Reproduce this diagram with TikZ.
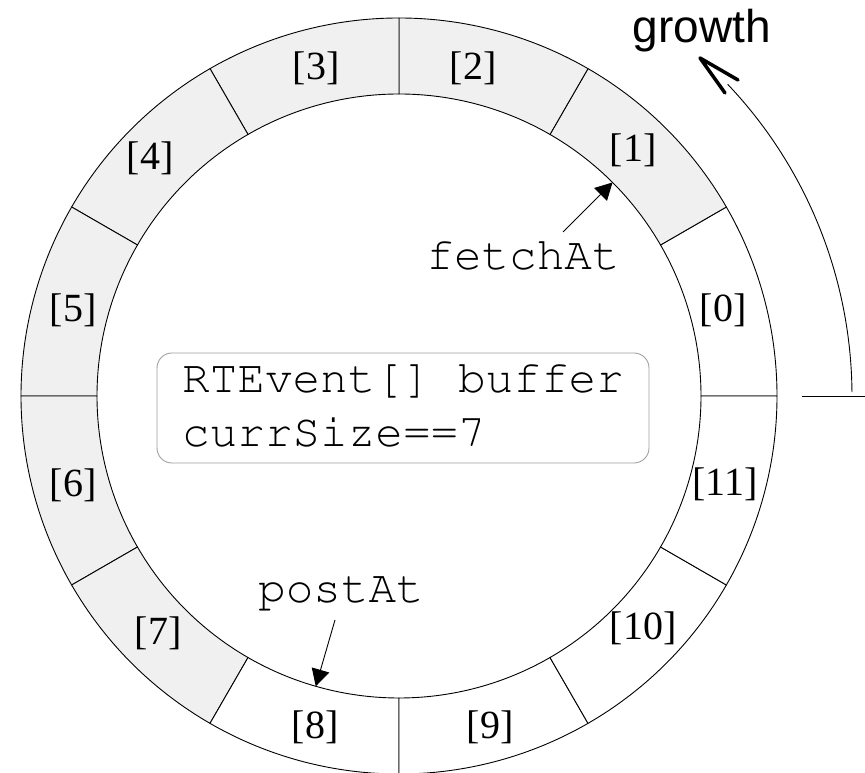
\documentclass[tikz,border=0pt]{standalone}
\usepackage[T1]{fontenc}
\usepackage{fontspec}
\setmainfont{Liberation Serif}
\newfontfamily\headsans{Liberation Sans}
\newcommand\codefont{\fontencoding{T1}\fontfamily{pcr}\fontseries{m}\fontshape{n}}
\usetikzlibrary{arrows.meta,calc}
\definecolor{slotfill}{RGB}{240,240,240}
\definecolor{boxedge}{RGB}{160,160,160}

\begin{document}
\begin{tikzpicture}[x=1pt,y=1pt,
  ringline/.style={line width=0.9pt, black},
  slotlabel/.style={font=\fontsize{40}{48}\selectfont, inner sep=0pt},
  code/.style={font=\codefont\fontsize{46}{54}\selectfont, inner sep=0pt},
  pointer/.style={line width=0.9pt, -{Triangle[length=17pt,width=18pt]}},
  bufbox/.style={draw=boxedge, line width=0.9pt, rounded corners=15pt,
    minimum width=492pt, minimum height=110pt, inner sep=0pt},
]
\useasboundingbox (0,0) rectangle (865,773);
\def\ringin{302}
\def\ringout{378}
\coordinate (C) at (399,377);

% ring buffer slots, 30 degrees each; slots 1..7 are occupied
\foreach \k/\shade in {0/white,1/slotfill,2/slotfill,3/slotfill,4/slotfill,5/slotfill,
                       6/slotfill,7/slotfill,8/white,9/white,10/white,11/white}{
  \pgfmathsetmacro\a{30*\k}
  \pgfmathsetmacro\b{30*\k+30}
  \filldraw[ringline, fill=\shade]
    ($(C)+(\a:\ringin)$) -- ($(C)+(\a:\ringout)$)
    arc[start angle=\a, end angle=\b, radius=\ringout]
    -- ($(C)+(\b:\ringin)$)
    arc[start angle=\b, end angle=\a, radius=\ringin] -- cycle;
}

% slot indices
\foreach \k/\x/\y in {0/723/463, 1/633/623, 2/473/705, 3/316/705, 4/150/615, 5/73/463,
                      6/73/288, 7/158/140, 8/315/46, 9/490/46, 10/643/145, 11/725/289}{
  \node[slotlabel] (slot\k) at (\x,\y) {[\k]};
}

% buffer description
\node[bufbox] (buf) at (403,365) {};
\node[code, anchor=base west] (bufname) at (182,380) {RTEvent[] buffer};
\node[code, anchor=base west] (bufsize) at (182,326) {currSize==7};

% read and write positions
\node[code, anchor=base] (fetch) at (523,503) {fetchAt};
\coordinate (fetchfrom) at (563,541);
\coordinate (fetchto) at ($(C)+(45:\ringin)$);
\draw[pointer] (fetchfrom) -- (fetchto);

\node[code, anchor=base] (post) at (341,170) {postAt};
\coordinate (postfrom) at (335,153);
\coordinate (postto) at ($(C)+(254:\ringin)$);
\draw[pointer] (postfrom) -- (postto);

% direction of growth
\coordinate (markin) at ($(C)+(0:403)$);
\coordinate (markout) at (865,377);
\draw[ringline] (markin) -- (markout);
\draw[ringline] ($(C)+(0.5:453)$) arc[start angle=0.5, end angle=43.5, radius=453];
\draw[line width=3.5pt, line cap=round, line join=round] (725,680) -- (700,715) -- (738,693);
\node[font=\headsans\fontsize{46}{54}\selectfont, inner sep=0pt, anchor=base] (growth) at (702,730) {growth};
\end{tikzpicture}
\end{document}
